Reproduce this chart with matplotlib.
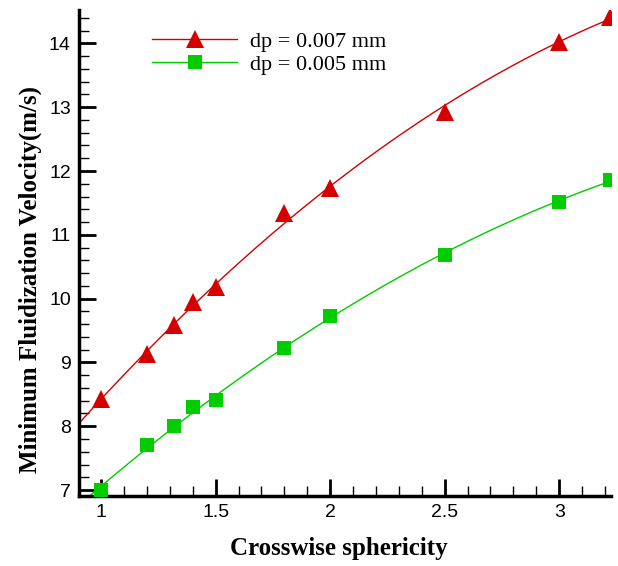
import matplotlib
matplotlib.use("Agg")
import matplotlib.pyplot as plt
import numpy as np
from matplotlib.ticker import MultipleLocator

# Data
sphericity = [1.0, 1.2, 1.32, 1.4, 1.5, 1.8, 2.0, 2.5, 3.0, 3.22]
umf_007 = [8.42, 9.14, 9.58, 9.94, 10.19, 11.34, 11.73, 12.92, 14.02, 14.42]
umf_005 = [7.0, 7.70, 8.0, 8.30, 8.41, 9.22, 9.72, 10.69, 11.52, 11.86]
series_labels = ["dp = 0.007 mm", "dp = 0.005 mm"]

red = "#d40000"
green = "#00cc00"

fig = plt.figure(figsize=(6.18, 5.66), dpi=100)
ax = fig.add_axes([0.128, 0.124, 0.861, 0.858])

x = np.array(sphericity)
x_fit = np.linspace(0.904, 3.225, 200)

# Smooth fitted curves through each series
for vals, col, mk, ms, lab in [(umf_007, red, "^", 13, series_labels[0]),
                               (umf_005, green, "s", 10, series_labels[1])]:
    coef = np.polyfit(x, np.array(vals), 2)
    ax.plot(x_fit, np.polyval(coef, x_fit), color=col, lw=1.0, zorder=2)
    ax.plot(x, vals, linestyle="none", marker=mk, ms=ms, color=col,
            markeredgewidth=0, zorder=3)
    # legend proxy
    ax.plot([], [], color=col, lw=1.0, marker=mk, ms=ms, markeredgewidth=0, label=lab)

ax.set_xlim(0.904, 3.227)
ax.set_ylim(6.91, 14.52)

ax.xaxis.set_major_locator(MultipleLocator(0.5))
ax.xaxis.set_minor_locator(MultipleLocator(0.1))
ax.yaxis.set_major_locator(MultipleLocator(1))
ax.yaxis.set_minor_locator(MultipleLocator(0.2))
ax.xaxis.set_major_formatter(matplotlib.ticker.FuncFormatter(lambda v, p: f"{v:g}"))

for s in ["top", "right"]:
    ax.spines[s].set_visible(False)
for s in ["left", "bottom"]:
    ax.spines[s].set_linewidth(2.5)

ax.tick_params(which="major", direction="in", length=12, width=2,
               labelsize=14, pad=6)
ax.tick_params(which="minor", direction="in", length=7, width=1)
for lbl in ax.get_xticklabels() + ax.get_yticklabels():
    lbl.set_family("Liberation Sans")

ax.set_xlabel("Crosswise sphericity", family="Liberation Serif",
              fontweight="bold", fontsize=18)
ax.set_ylabel("Minimum Fluidization Velocity(m/s)", family="Liberation Serif",
              fontweight="bold", fontsize=18)
ax.xaxis.set_label_coords(0.489, -0.084)
ax.yaxis.set_label_coords(-0.07, 0.446)

leg = ax.legend(loc="upper left", bbox_to_anchor=(0.10, 0.997), frameon=False,
                handlelength=3.8, handletextpad=0.6, labelspacing=0.1,
                prop={"family": "Liberation Serif", "size": 16})

fig.savefig("out.png", dpi=100)
